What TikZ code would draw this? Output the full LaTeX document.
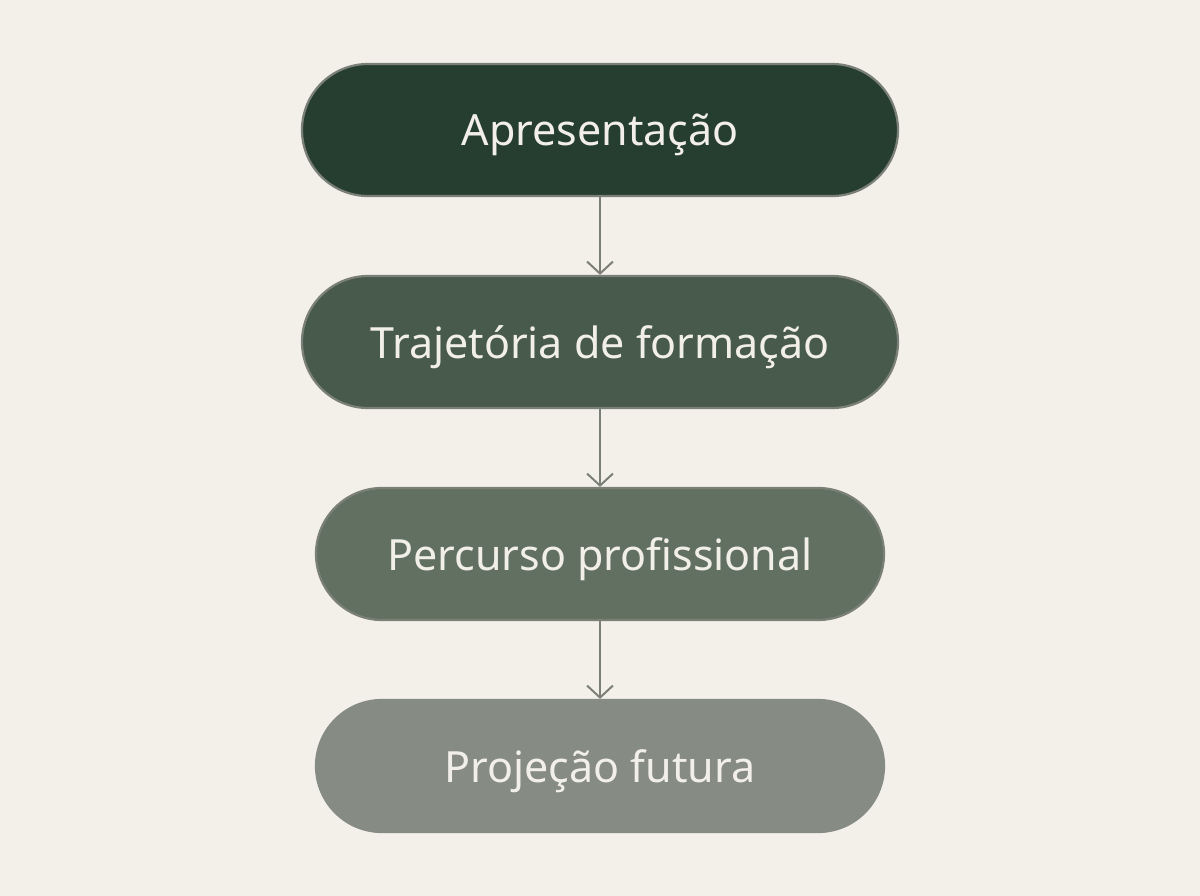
\documentclass[tikz,border=0pt]{standalone}
\usepackage{fontspec}
\setmainfont{Noto Sans}
\usetikzlibrary{arrows.meta}
\definecolor{bg}{HTML}{F3F0EA}
\definecolor{cA}{HTML}{263E2F}
\definecolor{cB}{HTML}{475A4B}
\definecolor{cC}{HTML}{627062}
\definecolor{cD}{HTML}{868B83}
\definecolor{edge}{HTML}{7B8077}
\definecolor{txt}{HTML}{F1EFE8}
\tikzset{
  pill/.style={draw=edge, line width=2.2pt, rounded corners=66pt, minimum height=132pt,
    text=txt, font=\fontsize{43}{50}\selectfont, inner sep=0pt, text height=32pt, text depth=0pt},
  flow/.style={draw=edge, line width=2pt, -{Straight Barb[length=12pt,width=26pt,line width=2pt]}}
}
\begin{document}
\begin{tikzpicture}[x=1pt,y=-1pt]
\fill[bg] (0,0) rectangle (1200,896);
\useasboundingbox (0,0) rectangle (1200,896);
\node[pill, fill=cA, minimum width=596pt] (a) at (600,130) {Apresentação};
\node[pill, fill=cB, minimum width=596pt] (b) at (600,342) {Trajetória de formação};
\node[pill, fill=cC, minimum width=568pt] (c) at (600,554) {Percurso profissional};
\node[pill, fill=cD, draw=cD, minimum width=568pt] (d) at (600,766) {Projeção futura};
\draw[flow] (a.south) -- (b.north);
\draw[flow] (b.south) -- (c.north);
\draw[flow] (c.south) -- (d.north);
\end{tikzpicture}
\end{document}
